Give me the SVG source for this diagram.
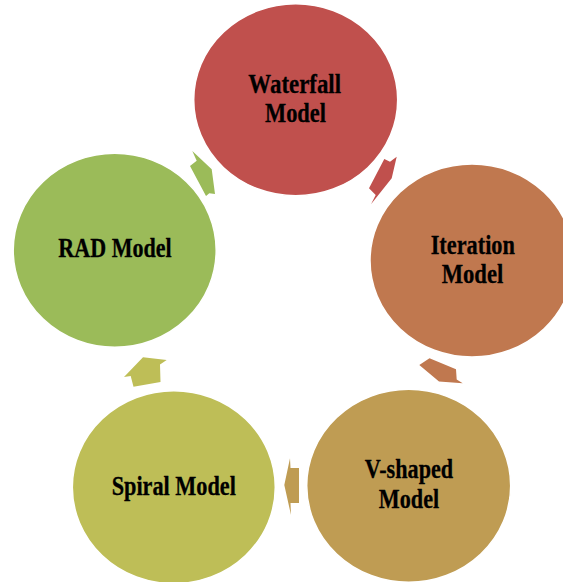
<svg xmlns="http://www.w3.org/2000/svg" width="563" height="582" viewBox="0 0 563 582">
<style>
.lbl{font-family:"Liberation Serif","Times New Roman",serif;font-weight:bold;font-size:28px;fill:#000;stroke:#000;stroke-width:0.3;text-anchor:middle}
.node{stroke:#fff;stroke-width:1.5}
</style>
<rect width="563" height="582" fill="#fff"/>
<g id="connectors">
<polygon id="a1" fill="#C0504D" points="384.3,159 390,161.7 396.7,156.7 391.7,178.3 371,204.3 375.7,195 369,188.3"/>
<polygon id="a2" fill="#C0784F" points="429.5,358.3 456,369.3 456.7,379.5 462.7,383.3 439,381.5 419.3,365"/>
<polygon id="a3" fill="#BF9C53" points="299,468 290.5,468 290,458.3 284.3,485 291,515 290.5,503 299,503"/>
<polygon id="a4" fill="#BEBE57" points="143,357.3 166.7,360 160,364.5 160.5,382 133.5,386.7 130.7,376 124,377"/>
<polygon id="a5" fill="#9BBB59" points="190,166 196.7,160.7 192.3,151 211.7,169.3 215,194 209.3,193.3 206,196"/>
</g>
<g id="waterfall">
<ellipse class="node" cx="295.7" cy="99.8" rx="102" ry="96" fill="#C0504D"/>
<text class="lbl" x="294.7" y="93" textLength="92.7" lengthAdjust="spacingAndGlyphs">Waterfall</text>
<text class="lbl" x="295.5" y="122" textLength="61" lengthAdjust="spacingAndGlyphs">Model</text>
</g>
<g id="iteration">
<ellipse class="node" cx="472" cy="260.5" rx="102" ry="96.5" fill="#C0784F"/>
<text class="lbl" x="472.8" y="254" textLength="84.3" lengthAdjust="spacingAndGlyphs">Iteration</text>
<text class="lbl" x="472.5" y="283.3" textLength="61.7" lengthAdjust="spacingAndGlyphs">Model</text>
</g>
<g id="vshaped">
<ellipse class="node" cx="408.7" cy="485.8" rx="102" ry="96.5" fill="#BF9C53"/>
<text class="lbl" x="409" y="478.3" textLength="88.3" lengthAdjust="spacingAndGlyphs">V-shaped</text>
<text class="lbl" x="409" y="508.3" textLength="60.3" lengthAdjust="spacingAndGlyphs">Model</text>
</g>
<g id="spiral">
<ellipse class="node" cx="173.8" cy="487.2" rx="101.5" ry="96.5" fill="#BEBE57"/>
<text class="lbl" x="173.8" y="495" textLength="124.3" lengthAdjust="spacingAndGlyphs">Spiral Model</text>
</g>
<g id="rad">
<ellipse class="node" cx="114.7" cy="250.3" rx="101.5" ry="97" fill="#9BBB59"/>
<text class="lbl" x="115" y="256.7" textLength="113.3" lengthAdjust="spacingAndGlyphs">RAD Model</text>
</g>
</svg>
